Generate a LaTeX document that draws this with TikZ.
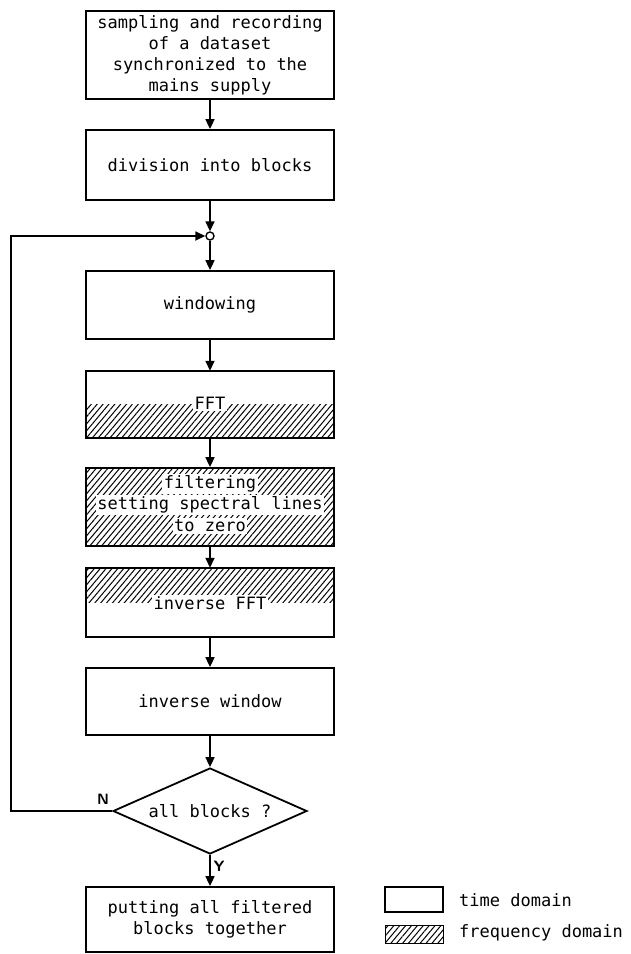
\documentclass[tikz,border=0pt]{standalone}
\usepackage{fontspec}
\setmonofont{DejaVu Sans Mono}
\usetikzlibrary{shapes.geometric,arrows.meta,patterns.meta}
\begin{document}
\begin{tikzpicture}[x=1pt,y=-1pt,
  every node/.style={font=\ttfamily\fontsize{17}{21}\selectfont},
  box/.style={draw,line width=1.8pt,minimum width=248pt,inner sep=0pt,align=center},
  hbox/.style={minimum width=248pt,inner sep=0pt},
  arr/.style={line width=1.7pt,-{Triangle[length=10pt,width=9pt]}},
  hatch/.style={pattern={Lines[angle=50,distance=4.5pt,line width=1pt]}},
  lbl/.style={fill=white,inner sep=1.5pt},
  border/.style={draw,line width=1.8pt}
]
\useasboundingbox (0,0) rectangle (631,954);

\node[box,minimum height=88pt] (b1) at (210,55) {sampling and recording\\of a dataset\\synchronized to the\\mains supply};
\node[box,minimum height=70pt] (b2) at (210,165) {division into blocks};
\node[circle,draw,line width=1.4pt,minimum size=8pt,inner sep=0pt,fill=white] (j) at (210,236) {};
\node[box,minimum height=68pt] (win) at (210,305) {windowing};

% FFT: lower half hatched
\node[hbox,minimum height=67pt] (fft) at (210,404.5) {};
\fill[hatch] (fft.west) rectangle (fft.south east);
\draw[border] (fft.south west) rectangle (fft.north east);
\node[lbl] (fftt) at (210,403) {FFT};

% filtering: fully hatched
\node[box,hatch,minimum height=78pt] (filt) at (210,507) {};
\node[lbl] (f1) at (210,484) {filtering};
\node[lbl] (f2) at (210,505) {setting spectral lines};
\node[lbl] (f3) at (210,526) {to zero};

% inverse FFT: upper half hatched
\node[hbox,minimum height=69pt] (ifft) at (210,602.5) {};
\fill[hatch] (ifft.north west) rectangle (ifft.east);
\draw[border] (ifft.south west) rectangle (ifft.north east);
\node[lbl] (iffttxt) at (210,603) {inverse FFT};

\node[box,minimum height=67pt] (iwin) at (210,701.5) {inverse window};
\node[diamond,draw,line width=1.8pt,aspect=2.26,minimum width=194pt,minimum height=86pt,inner sep=0pt] (dia) at (210,811) {all blocks ?};
\node[box,minimum height=65pt] (fin) at (210,919.5) {putting all filtered\\blocks together};

\draw[arr] (b1.south) -- (b2.north);
\draw[arr] (b2.south) -- (j.north);
\draw[arr] (j.south) -- (win.north);
\draw[arr] (win.south) -- (fft.north);
\draw[arr] (fft.south) -- (filt.north);
\draw[arr] (filt.south) -- (ifft.north);
\draw[arr] (ifft.south) -- (iwin.north);
\draw[arr] (iwin.south) -- (dia.north);
\draw[arr] (dia.south) -- (fin.north);
\coordinate (lp) at (11,811);
\draw[arr] (dia.west) -- (lp) |- (j.west);
\node[font=\sffamily\bfseries\fontsize{15}{18}\selectfont] (nl) at (103,799) {N};
\node[font=\sffamily\bfseries\fontsize{15}{18}\selectfont] (yl) at (219,866) {Y};

% legend
\node[draw,line width=1.5pt,minimum width=58pt,minimum height=25pt,inner sep=0pt] (lt) at (414,899.5) {};
\node[draw,line width=0.8pt,hatch,minimum width=58pt,minimum height=18pt,inner sep=0pt] (lf) at (414,934) {};
\node[anchor=west,inner sep=0pt] (ltt) at (459,900) {time domain};
\node[anchor=west,inner sep=0pt] (lft) at (459,933) {frequency domain};
\end{tikzpicture}
\end{document}
